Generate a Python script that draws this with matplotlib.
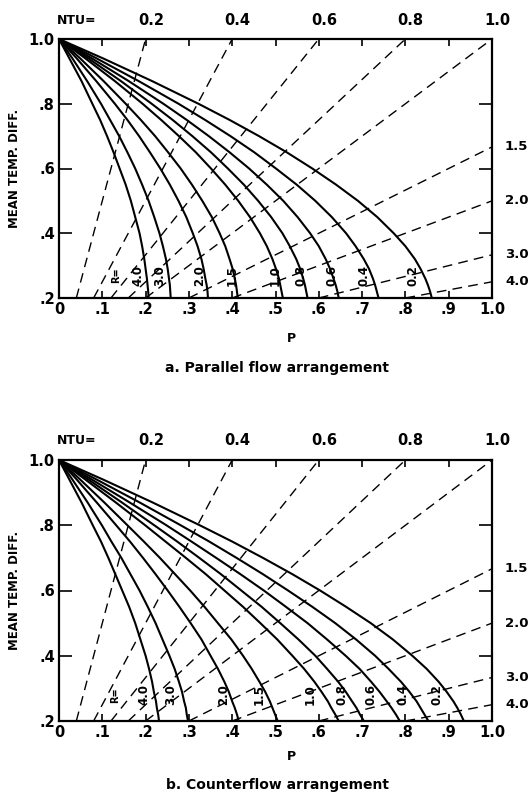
import matplotlib
matplotlib.use("Agg")
import matplotlib.pyplot as plt
from matplotlib.transforms import blended_transform_factory

plt.rcParams['font.family'] = ['DejaVu Sans Condensed', 'DejaVu Sans']
plt.rcParams['font.weight'] = 'bold'

# ---------------- data ----------------
R_labels = ["4.0", "3.0", "2.0", "1.5", "1.0", "0.8", "0.6", "0.4", "0.2"]
y_levels = [1.0, 0.94, 0.87, 0.8, 0.75, 0.7, 0.65, 0.6, 0.55, 0.5, 0.45, 0.4, 0.36, 0.32, 0.29, 0.26, 0.24, 0.22, 0.2]

# a. parallel flow: P at each y level, one list per R
par_r40 = [0, 0.024, 0.052, 0.077, 0.095, 0.111, 0.126, 0.140, 0.154, 0.166, 0.176, 0.186, 0.192, 0.197, 0.200, 0.203, 0.2045, 0.206, 0.207]
par_r30 = [0, 0.031, 0.065, 0.097, 0.118, 0.139, 0.158, 0.176, 0.192, 0.207, 0.220, 0.232, 0.240, 0.247, 0.251, 0.254, 0.256, 0.257, 0.258]
par_r20 = [0, 0.041, 0.086, 0.129, 0.158, 0.185, 0.210, 0.234, 0.256, 0.276, 0.294, 0.309, 0.320, 0.329, 0.334, 0.338, 0.341, 0.343, 0.344]
par_r15 = [0, 0.049, 0.103, 0.154, 0.189, 0.222, 0.252, 0.281, 0.307, 0.331, 0.353, 0.371, 0.384, 0.394, 0.401, 0.406, 0.409, 0.411, 0.413]
par_r10 = [0, 0.061, 0.129, 0.193, 0.236, 0.277, 0.316, 0.351, 0.384, 0.414, 0.441, 0.464, 0.480, 0.493, 0.501, 0.508, 0.511, 0.514, 0.517]
par_r08 = [0, 0.068, 0.143, 0.214, 0.2625, 0.308, 0.351, 0.390, 0.427, 0.460, 0.490, 0.516, 0.533, 0.548, 0.557, 0.564, 0.568, 0.571, 0.574]
par_r06 = [0, 0.076, 0.161, 0.241, 0.295, 0.346, 0.394, 0.439, 0.480, 0.518, 0.551, 0.580, 0.600, 0.616, 0.626, 0.634, 0.639, 0.643, 0.646]
par_r04 = [0, 0.087, 0.184, 0.276, 0.3375, 0.396, 0.451, 0.501, 0.549, 0.592, 0.630, 0.663, 0.685, 0.704, 0.716, 0.725, 0.730, 0.734, 0.738]
par_r02 = [0, 0.102, 0.215, 0.322, 0.394, 0.462, 0.526, 0.585, 0.640, 0.6905, 0.735, 0.773, 0.800, 0.822, 0.835, 0.846, 0.852, 0.857, 0.861]

# b. counterflow
cnt_r40 = [0, 0.024, 0.052, 0.078, 0.097, 0.114, 0.130, 0.146, 0.162, 0.176, 0.188, 0.200, 0.208, 0.215, 0.219, 0.224, 0.226, 0.229, 0.231]
cnt_r30 = [0, 0.031, 0.066, 0.099, 0.121, 0.144, 0.165, 0.186, 0.205, 0.223, 0.239, 0.255, 0.267, 0.277, 0.284, 0.289, 0.293, 0.295, 0.298]
cnt_r20 = [0, 0.041, 0.087, 0.132, 0.164, 0.194, 0.223, 0.251, 0.278, 0.304, 0.329, 0.350, 0.367, 0.382, 0.392, 0.400, 0.406, 0.411, 0.415]
cnt_r15 = [0, 0.049, 0.1045, 0.158, 0.196, 0.233, 0.268, 0.303, 0.336, 0.367, 0.398, 0.425, 0.445, 0.463, 0.476, 0.487, 0.493, 0.499, 0.505]
cnt_r10 = [0, 0.061, 0.131, 0.199, 0.246, 0.293, 0.339, 0.382, 0.425, 0.465, 0.504, 0.539, 0.566, 0.590, 0.606, 0.621, 0.629, 0.638, 0.646]
cnt_r08 = [0, 0.068, 0.145, 0.220, 0.273, 0.324, 0.374, 0.421, 0.468, 0.511, 0.553, 0.592, 0.619, 0.645, 0.662, 0.677, 0.687, 0.695, 0.704]
cnt_r06 = [0, 0.076, 0.163, 0.248, 0.306, 0.363, 0.419, 0.473, 0.524, 0.574, 0.619, 0.662, 0.694, 0.721, 0.740, 0.757, 0.768, 0.778, 0.787]
cnt_r04 = [0, 0.087, 0.186, 0.281, 0.347, 0.410, 0.471, 0.529, 0.585, 0.638, 0.686, 0.730, 0.761, 0.790, 0.809, 0.826, 0.835, 0.844, 0.853]
cnt_r02 = [0, 0.102, 0.216, 0.325, 0.400, 0.471, 0.539, 0.603, 0.663, 0.720, 0.771, 0.816, 0.849, 0.877, 0.895, 0.911, 0.920, 0.928, 0.935]

NTU_values = [0.2, 0.4, 0.6, 0.8, 1.0, 1.5, 2.0, 3.0, 4.0]
top_ntu_labels = ["0.2", "0.4", "0.6", "0.8", "1.0"]
right_ntu_labels = ["1.5", "2.0", "3.0", "4.0"]
x_ticks = [0, 0.1, 0.2, 0.3, 0.4, 0.5, 0.6, 0.7, 0.8, 0.9, 1.0]
x_tick_labels = ["0", ".1", ".2", ".3", ".4", ".5", ".6", ".7", ".8", ".9", "1.0"]
y_ticks = [0.2, 0.4, 0.6, 0.8, 1.0]
y_tick_labels = [".2", ".4", ".6", ".8", "1.0"]

par_curves = [par_r40, par_r30, par_r20, par_r15, par_r10, par_r08, par_r06, par_r04, par_r02]
cnt_curves = [cnt_r40, cnt_r30, cnt_r20, cnt_r15, cnt_r10, cnt_r08, cnt_r06, cnt_r04, cnt_r02]

# ---------------- layout ----------------
W, H = 531, 794
fig = plt.figure(figsize=(W / 100, H / 100), dpi=100)

panels = [
    dict(curves=par_curves, rect=[59 / W, 1 - 298 / H, 433 / W, 259 / H],
         lab_x=[0.182, 0.233, 0.325, 0.40, 0.50, 0.558, 0.63, 0.704, 0.818], r_x=0.133, lab_y=0.27,
         cap="a. Parallel flow arrangement", cap_y=368, p_y=338),
    dict(curves=cnt_curves, rect=[59 / W, 1 - 721 / H, 433 / W, 261 / H],
         lab_x=[0.196, 0.259, 0.38, 0.462, 0.58, 0.654, 0.72, 0.795, 0.873], r_x=0.129, lab_y=0.28,
         cap="b. Counterflow arrangement", cap_y=785, p_y=757),
]

for pn in panels:
    ax = fig.add_axes(pn['rect'])
    ax.set_xlim(0, 1)
    ax.set_ylim(0.2, 1.0)
    for s in ax.spines.values():
        s.set_linewidth(1.6)

    # NTU lines (P / NTU)
    for ntu in NTU_values:
        ax.axline((0, 0), slope=1 / ntu, color='black', lw=1.0, linestyle=(0, (7, 4.5)))

    # R curves
    for pts in pn['curves']:
        ax.plot(pts, y_levels, color='black', lw=1.5, solid_joinstyle='round')

    # curve labels
    for lab, lx in zip(R_labels, pn['lab_x']):
        ax.text(lx, pn['lab_y'], lab, rotation=90, ha='center', va='center', fontsize=8.5)
    ax.text(pn['r_x'], pn['lab_y'], "R=", rotation=90, ha='center', va='center', fontsize=7)

    # ticks
    ax.set_xticks(x_ticks)
    ax.set_xticklabels(x_tick_labels, fontsize=10.5)
    ax.set_yticks(y_ticks)
    ax.set_yticklabels(y_tick_labels, fontsize=10.5)
    ax.tick_params(axis='x', direction='in', top=True, bottom=True, length=5, width=1.2, pad=3)
    ax.tick_params(axis='y', direction='in', left=True, right=True, length=9.5, width=1.2, pad=3)

    # NTU labels on top and right
    trans_top = blended_transform_factory(ax.transData, ax.transAxes)
    ax.text(0.04, 1.073, "NTU=", transform=trans_top, ha='center', va='center', fontsize=9)
    for lab, ntu in zip(top_ntu_labels, NTU_values[:5]):
        ax.text(ntu + 0.012, 1.073, lab, transform=trans_top, ha='center', va='center', fontsize=10.5)
    trans_right = blended_transform_factory(ax.transAxes, ax.transData)
    for lab, ntu in zip(right_ntu_labels, NTU_values[5:]):
        ax.text(1.030, 1 / ntu, lab, transform=trans_right, ha='left', va='center', fontsize=9.5)

    # axis titles
    x0, y0, w, h = pn['rect']
    fig.text(15 / W, y0 + h / 2, "MEAN TEMP. DIFF.", rotation=90, ha='center', va='center', fontsize=8.5)
    fig.text(291 / W, 1 - pn['p_y'] / H, "P", ha='center', va='center', fontsize=9)
    fig.text(277 / W, 1 - pn['cap_y'] / H, pn['cap'], ha='center', va='center', fontsize=10)

fig.savefig("out.png", dpi=100)
